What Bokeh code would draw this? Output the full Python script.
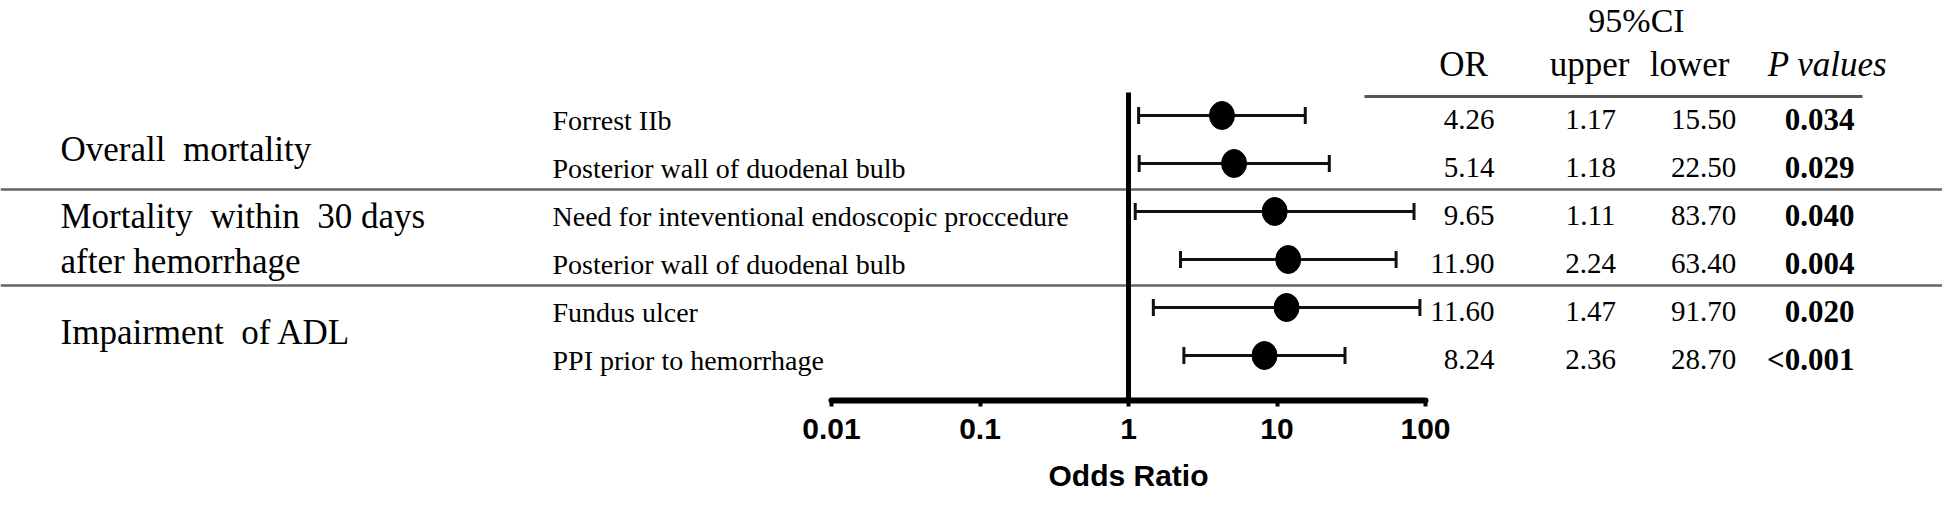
from bokeh.plotting import figure
from bokeh.layouts import column
from bokeh.models import (Range1d, LinearScale, ColumnDataSource, FixedTicker, Whisker,
                          TeeHead)
from bokeh.core.properties import value
from bokeh.embed import file_html
from bokeh.resources import INLINE

# ---------------- data ----------------
group_labels = ["Overall\u00a0 mortality", "Mortality\u00a0 within\u00a0 30 days",
                "after hemorrhage", "Impairment\u00a0 of ADL"]
factors = ["Forrest IIb",
           "Posterior wall of duodenal bulb",
           "Need for inteventional endoscopic proccedure",
           "Posterior wall of duodenal bulb",
           "Fundus ulcer",
           "PPI prior to hemorrhage"]
or_vals = [4.26, 5.14, 9.65, 11.90, 11.60, 8.24]
ci_upper_col = [1.17, 1.18, 1.11, 2.24, 1.47, 2.36]      # column headed "upper"
ci_lower_col = [15.50, 22.50, 83.70, 63.40, 91.70, 28.70]  # column headed "lower"
p_values = ["0.034", "0.029", "0.040", "0.004", "0.020", "<0.001"]
tick_values = [0.01, 0.1, 1, 10, 100]
tick_labels = ["0.01", "0.1", "1", "10", "100"]
header_labels = ["OR", "upper", "lower"]
axis_title = "Odds Ratio"

# ---------------- layout ----------------
W = 1942
H_TOP, H_BOT = 456, 38
x0_log, decade = 831.0, 148.5       # canvas px of 0.01, px per decade
row0, row_h = 115.0, 48.0           # canvas px of first row, row spacing
frame_bottom = 400.0

lo_exp = -2 - x0_log / decade
hi_exp = -2 + (W - x0_log) / decade
y_top = -row0 / row_h
y_bot = (frame_bottom - row0) / row_h

def ry(py):
    return (py - row0) / row_h

xr = Range1d(10 ** lo_exp, 10 ** hi_exp)

p = figure(width=W, height=H_TOP, x_axis_type="log", x_range=xr,
           y_range=Range1d(y_bot, y_top),
           output_backend="svg", toolbar_location=None,
           y_axis_location=None,
           min_border_left=0, min_border_right=0, min_border_top=0,
           min_border_bottom=int(H_TOP - frame_bottom))
p.outline_line_color = None
p.xgrid.visible = False
p.ygrid.visible = False
p.background_fill_color = "white"
p.border_fill_color = "white"
p.extra_x_ranges = {"px": Range1d(0, W)}
p.extra_x_scales = {"px": LinearScale()}

rows = list(range(len(factors)))
txt_rows = [r + 5 / row_h for r in rows]
val_rows = [r + 4 / row_h for r in rows]

# axis
ax = p.xaxis[0]
ax.ticker = FixedTicker(ticks=tick_values, minor_ticks=[])
ax.major_label_overrides = {t: l for t, l in zip(tick_values, tick_labels)}
ax.bounds = (tick_values[0], tick_values[-1])
ax.axis_line_width = 6
ax.axis_line_color = "black"
ax.axis_line_cap = "round"
ax.major_tick_line_width = 4
ax.major_tick_line_color = "black"
ax.major_tick_out = 6
ax.major_tick_in = 0
ax.minor_tick_line_color = None
ax.major_label_text_font = "Liberation Sans"
ax.major_label_text_font_style = "bold"
ax.major_label_text_font_size = "30px"
ax.major_label_text_color = "black"
ax.major_label_standoff = 12

# separators
sep_y = [1.5 + 2 / row_h, 3.5 + 2 / row_h]
p.segment(x0=[0, 0], x1=[W, W], y0=sep_y, y1=sep_y, x_range_name="px",
          line_color="#666666", line_width=2.5)
# header rule
p.segment(x0=[1364], x1=[1862], y0=[ry(96)], y1=[ry(96)], x_range_name="px",
          line_color="#555555", line_width=3)
# reference line at OR = 1
p.segment(x0=[1], x1=[1], y0=[ry(92)], y1=[y_bot], line_color="black", line_width=5)

src = ColumnDataSource(dict(row=rows, orv=or_vals, lo=ci_upper_col, hi=ci_lower_col))
p.segment(x0="lo", x1="hi", y0="row", y1="row", source=src, line_color="#111111", line_width=3)
wh = Whisker(source=src, base="row", lower="lo", upper="hi", dimension="width",
             line_color="#111111", line_width=3,
             lower_head=TeeHead(size=17, line_width=3, line_color="#111111"),
             upper_head=TeeHead(size=17, line_width=3, line_color="#111111"))
p.add_layout(wh)
p.ellipse(x="orv", y="row", width=25, height=28, width_units="screen", height_units="screen",
          source=src, fill_color="black", line_color="black")

serif = value("Liberation Serif")

# group labels
p.text(x=[60, 60, 60, 60], y=[ry(149), ry(216), ry(261), ry(332)], text=group_labels,
       x_range_name="px", text_font=serif, text_font_size="35px",
       text_baseline="middle", text_color="black")
# factor labels
p.text(x=[552] * len(factors), y=txt_rows, text=factors, x_range_name="px",
       text_font=serif, text_font_size="28px", text_baseline="middle", text_color="black")

# table headers
p.text(x=[1636], y=[ry(20)], text=["95%CI"], x_range_name="px", text_font=serif,
       text_font_size="34px", text_align="center", text_baseline="middle",
       text_color="black")
p.text(x=[1463, 1589, 1689], y=[ry(64)] * 3, text=header_labels, x_range_name="px",
       text_font=serif, text_font_size="35px", text_align="center",
       text_baseline="middle", text_color="black")
p.text(x=[1827], y=[ry(64)], text=["P values"], x_range_name="px", text_font=serif,
       text_font_size="35px", text_font_style="italic", text_align="center",
       text_baseline="middle", text_color="black")

# table values
p.text(x=[1494] * 6, y=val_rows, text=[f"{v:.2f}" for v in or_vals], x_range_name="px",
       text_font=serif, text_font_size="29px", text_align="right", text_baseline="middle",
       text_color="black")
p.text(x=[1590] * 6, y=val_rows, text=[f"{v:.2f}" for v in ci_upper_col], x_range_name="px",
       text_font=serif, text_font_size="29px", text_align="center", text_baseline="middle",
       text_color="black")
p.text(x=[1703] * 6, y=val_rows, text=[f"{v:.2f}" for v in ci_lower_col], x_range_name="px",
       text_font=serif, text_font_size="29px", text_align="center", text_baseline="middle",
       text_color="black")
p.text(x=[1854] * 6, y=val_rows, text=p_values, x_range_name="px",
       text_font=serif, text_font_size="31px", text_font_style="bold", text_align="right",
       text_baseline="middle", text_color="black")

# axis title strip, sharing the log x range
p2 = figure(width=W, height=H_BOT, x_axis_type="log", x_range=xr, y_range=Range1d(0, 1),
            output_backend="svg", toolbar_location=None,
            x_axis_location=None, y_axis_location=None,
            min_border_left=0, min_border_right=0, min_border_top=0, min_border_bottom=0)
p2.outline_line_color = None
p2.xgrid.visible = False
p2.ygrid.visible = False
p2.text(x=[1], y=[0.5], text=[axis_title], text_font=value("Liberation Sans"),
        text_font_style="bold", text_font_size="30px", text_align="center",
        text_baseline="middle", text_color="black")

layout = column(p, p2, spacing=0)
open("out.html", "w").write(file_html(layout, INLINE))
